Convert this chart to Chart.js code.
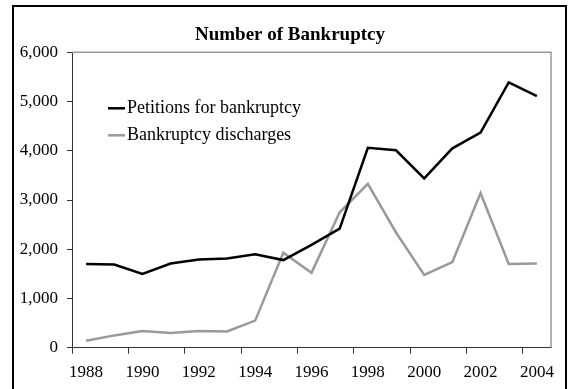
<!DOCTYPE html>
<html>
<head>
<meta charset="utf-8">
<title>Number of Bankruptcy</title>
<script src="https://cdn.jsdelivr.net/npm/chart.js@4/dist/chart.umd.min.js"></script>
<style>
  html, body { margin: 0; padding: 0; background: #fff; }
  canvas { display: block; }
</style>
</head>
<body>
<canvas id="chart" width="569" height="389"></canvas>
<script>
// Years on the category axis
const years = ['1988','1989','1990','1991','1992','1993','1994','1995','1996',
               '1997','1998','1999','2000','2001','2002','2003','2004'];
// Years that carry a label under the axis
const labelledYears = ['1988','1990','1992','1994','1996','1998','2000','2002','2004'];

// Yearly counts
const petitions = [1700, 1690, 1500, 1710, 1790, 1810, 1900, 1780, 2090,
                   2420, 4060, 4010, 3440, 4050, 4370, 5390, 5110];
const discharges = [140, 250, 340, 300, 340, 330, 550, 1930, 1520,
                    2750, 3330, 2340, 1480, 1740, 3140, 1700, 1710];

const yTicks = [0, 1000, 2000, 3000, 4000, 5000, 6000];

const FONT = '"Liberation Serif", "Times New Roman", serif';
const AXIS = '#333333';
const FRAME = '#9a9a9a';

// White page, outer black frame, and the grey top/right edges of the plot
const framePlugin = {
  id: 'frame',
  beforeDraw(chart) {
    const c = chart.ctx;
    c.save();
    c.fillStyle = '#fff';
    c.fillRect(0, 0, chart.width, chart.height);
    c.restore();
  },
  afterDraw(chart) {
    const c = chart.ctx;
    const a = chart.chartArea;
    c.save();
    c.strokeStyle = FRAME;
    c.lineWidth = 1.5;
    c.beginPath();
    c.moveTo(a.left, a.top);
    c.lineTo(a.right, a.top);
    c.lineTo(a.right, a.bottom);
    c.stroke();
    c.strokeStyle = '#000';
    c.lineWidth = 2;
    c.strokeRect(13, 6, 553, 420);
    c.restore();
  }
};

// Legend drawn inside the plot, short line sample followed by the series name
const insideLegend = {
  id: 'insideLegend',
  afterDatasetsDraw(chart) {
    const c = chart.ctx;
    const a = chart.chartArea;
    const x0 = a.left + 36;
    let y = a.top + 56;
    c.save();
    c.font = '18px ' + FONT;
    c.textBaseline = 'middle';
    c.textAlign = 'left';
    chart.data.datasets.forEach(ds => {
      c.strokeStyle = ds.borderColor;
      c.lineWidth = 2.5;
      c.beginPath();
      c.moveTo(x0, y);
      c.lineTo(x0 + 17, y);
      c.stroke();
      c.fillStyle = '#000';
      c.fillText(ds.label, x0 + 19, y);
      y += 27;
    });
    c.restore();
  }
};

new Chart(document.getElementById('chart'), {
  type: 'line',
  data: {
    labels: years,
    datasets: [
      {
        label: 'Petitions for bankruptcy',
        data: petitions,
        borderColor: '#000000',
        backgroundColor: '#000000',
        borderWidth: 2.5,
        pointRadius: 0,
        tension: 0,
        yAxisID: 'y'
      },
      {
        label: 'Bankruptcy discharges',
        data: discharges,
        borderColor: '#9a9a9a',
        backgroundColor: '#9a9a9a',
        borderWidth: 2.5,
        pointRadius: 0,
        tension: 0,
        yAxisID: 'y'
      }
    ]
  },
  options: {
    responsive: false,
    animation: false,
    devicePixelRatio: 1,
    layout: { padding: { left: 13, right: 2, top: 6, bottom: 0 } },
    plugins: {
      legend: { display: false },
      tooltip: { enabled: false },
      title: {
        display: true,
        text: 'Number of Bankruptcy',
        color: '#000',
        font: { family: FONT, size: 19, weight: 'bold', lineHeight: 1.2 },
        padding: { top: 17.6, bottom: 5.9 }
      }
    },
    scales: {
      x: {
        type: 'category',
        offset: true,
        grid: {
          display: true,
          offset: true,
          drawOnChartArea: false,
          drawTicks: true,
          tickLength: 6,
          tickWidth: 1,
          tickColor: ctx => (ctx.index !== undefined && ctx.index % 2 === 0) ? AXIS : 'rgba(0,0,0,0)'
        },
        border: { display: true, color: AXIS, width: 1 },
        ticks: {
          autoSkip: false,
          maxRotation: 0,
          minRotation: 0,
          padding: 9,
          color: '#000',
          font: { family: FONT, size: 17 },
          callback: function (value, index) {
            const lab = this.getLabelForValue(value);
            return labelledYears.includes(lab) ? lab : '';
          }
        },
        afterFit(scale) { scale.height = 41.3; }
      },
      y: {
        position: 'left',
        min: 0,
        max: 6000,
        afterBuildTicks(scale) { scale.ticks = yTicks.map(v => ({ value: v })); },
        grid: {
          display: true,
          drawOnChartArea: false,
          drawTicks: true,
          tickLength: 5,
          tickColor: AXIS
        },
        border: { display: true, color: AXIS, width: 1 },
        ticks: {
          padding: 9,
          color: '#000',
          font: { family: FONT, size: 17 },
          callback: v => Number(v).toLocaleString('en-US')
        },
        afterFit(scale) { scale.width = 59; }
      },
      // spacer on the right so the plot ends before the outer frame
      yRight: {
        position: 'right',
        display: true,
        min: 0,
        max: 6000,
        grid: { display: false, drawTicks: false },
        border: { display: false },
        ticks: { display: false },
        afterFit(scale) { scale.width = 16; }
      }
    }
  },
  plugins: [framePlugin, insideLegend]
});
</script>
</body>
</html>
